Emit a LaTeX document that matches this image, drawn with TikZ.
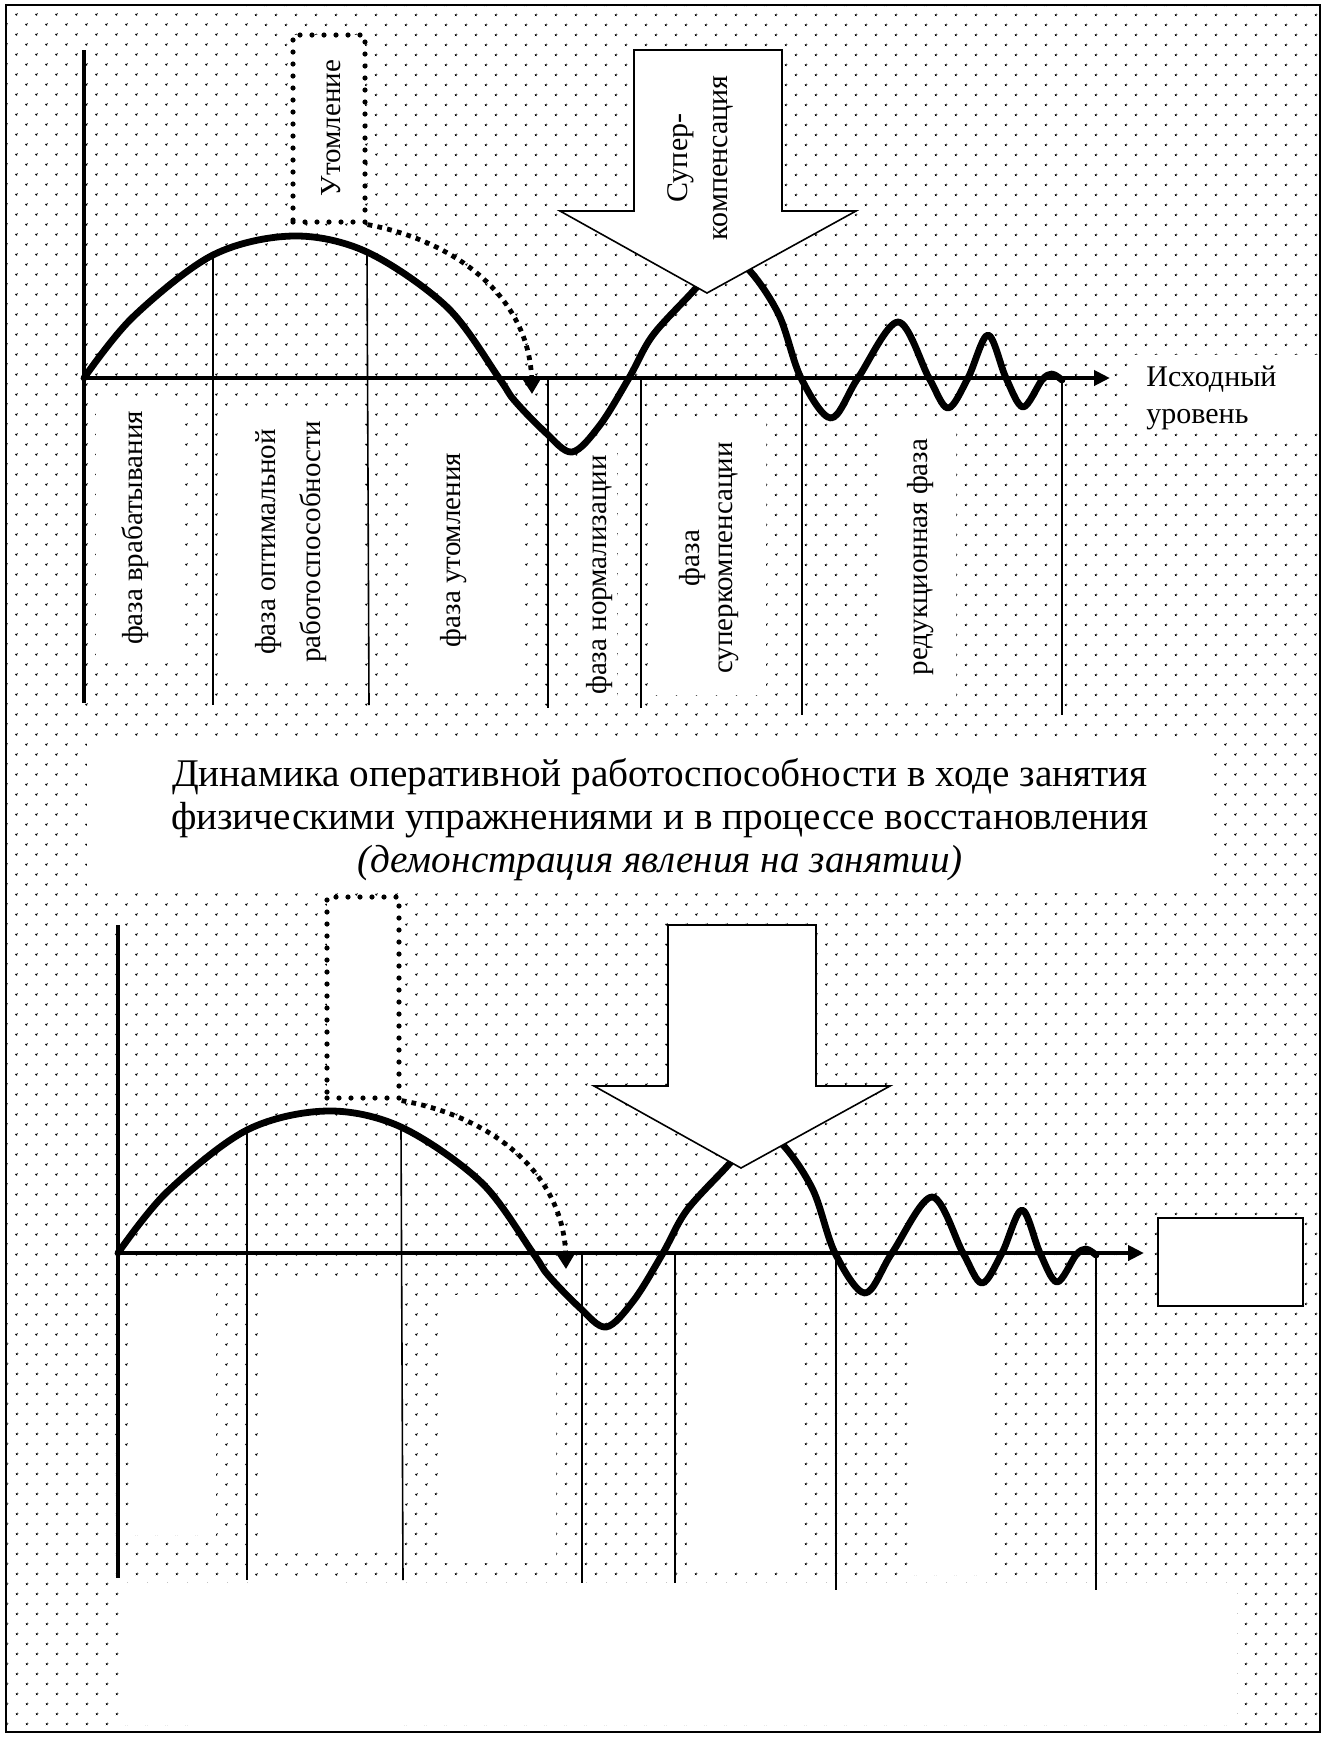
\documentclass[tikz,border=0pt]{standalone}
\usepackage{fontspec}
\setmainfont{Liberation Serif}
\usetikzlibrary{patterns.meta,arrows.meta}
\tikzset{
  axisline/.style={line width=2.3pt},
  curveline/.style={line width=3.4pt, line join=round, line cap=round},
  divider/.style={line width=0.8pt},
  utbox/.style={draw, fill=white, line width=2.6pt, dash pattern=on 0pt off 6pt, line cap=round, inner sep=0pt},
  dotarrow/.style={line width=2.4pt, dash pattern=on 2.4pt off 2.6pt, -{Triangle[length=7pt,width=8pt]}},
  bigarrow/.style={draw, fill=white, line width=0.8pt, line join=miter},
  lbl/.style={rotate=90, font=\fontsize{14.5}{17}\selectfont, align=center, inner sep=0pt},
  whitebox/.style={fill=white}
}
\newcommand\drawchart[4]{% #1 shift, #2 prefix, #3 box height (pt), #4 box center y
\begin{scope}[shift={#1}]
  % white label backgrounds
  \fill[whitebox] (96,403) rectangle (182,660);
  \fill[whitebox] (224,407) rectangle (364,677);
  \fill[whitebox] (410,420) rectangle (522,688);
  \fill[whitebox] (653,420) rectangle (766,695);
  \fill[whitebox] (879,420) rectangle (956,700);
  % coordinates
  \coordinate (#2o) at (84,378);
  \coordinate (#2ytop) at (84,50);
  \coordinate (#2ybot) at (84,703);
  \coordinate (#2xend) at (1110,378);
  % dividers
  \coordinate (#2d1t) at (213,255); \coordinate (#2d1b) at (213,705);
  \coordinate (#2d2t) at (367,254); \coordinate (#2d2b) at (369,705);
  \coordinate (#2d3t) at (548,378); \coordinate (#2d3b) at (548,708);
  \coordinate (#2d4t) at (641,378); \coordinate (#2d4b) at (641,708);
  \coordinate (#2d5t) at (802,378); \coordinate (#2d5b) at (802,715);
  \coordinate (#2d6t) at (1062,378); \coordinate (#2d6b) at (1062,715);
  \foreach \i in {1,...,6} {\draw[divider] (#2d\i t) -- (#2d\i b);}
  % axes
  \draw[axisline] (#2ytop) -- (#2ybot);
  \draw[axisline,-{Triangle[length=8pt,width=7.5pt]}] (#2o) -- (#2xend);
  % curve
  \draw[curveline] plot[smooth, tension=0.55] coordinates {
    (84,378) (133,317) (213,255) (293,236) (367,252) (447,307) (499,378) (514,400)
    (545,432) (572,452) (600,425) (629,378) (653,335) (696,288) (722,255)
    (749,270) (779,315) (801,378) (831,418) (858,378) (898,322) (929,378)
    (948,408) (968,378) (988,335) (1006,378) (1023,407) (1042,380) (1052,374) (1062,380)};
  % Utomlenie box and dotted arrow
  \node[utbox, minimum width=36pt, minimum height=#3] (#2ut) at (329,#4) {};
  \coordinate (#2c1) at (460,242);
  \coordinate (#2c2) at (530,300);
  \coordinate (#2dtip) at (532,394);
  \draw[dotarrow] (#2ut.south east) .. controls (#2c1) and (#2c2) .. (#2dtip);
  % big arrow
  \draw[bigarrow] (634,50) -- (782,50) -- (782,211) -- (856,211) -- (707,293)
     -- (560,211) -- (634,211) -- cycle;
\end{scope}
}
\begin{document}
\begin{tikzpicture}[x=0.5pt,y=-0.5pt]
\useasboundingbox (0,0) rectangle (1327,1737);
\fill[white] (0,0) rectangle (1327,1737);
\fill[pattern={Dots[distance=7.25pt, angle=45, radius=0.7pt]}] (6,5) rectangle (1320,1732);
% top-level white areas
\fill[whitebox] (1128,355) rectangle (1318,428);
\fill[whitebox] (87,743) rectangle (1207,893);
\fill[whitebox] (119,1583) rectangle (1237,1725);
\draw[line width=1pt] (6,5) rectangle (1320,1732);

\drawchart{(0,0)}{a}{93.5pt}{128.5}
\drawchart{(34,875)}{b}{100.5pt}{122.5}

% texts of the upper chart
\node[lbl] (ut) at (331,128) {Утомление};
\node[lbl, font=\fontsize{15}{20}\selectfont] (sk) at (700,158) {Супер-\\компенсация};
\node[lbl] (l1) at (135,528) {фаза врабатывания};
\node[lbl, font=\fontsize{14.5}{22.5}\selectfont] (l2) at (291,542) {фаза оптимальной\\работоспособности};
\node[lbl] (l3) at (454,550) {фаза утомления};
\node[lbl, fill=white, inner sep=2pt] (l4) at (600,575) {фаза нормализации};
\node[lbl, font=\fontsize{14.5}{16.5}\selectfont] (l5) at (709,558) {фаза\\суперкомпенсации};
\node[lbl] (l6) at (921,557) {редукционная фаза};
\node[font=\fontsize{15}{18.5}\selectfont, align=left, anchor=west, inner sep=0pt] (ish) at (1146,398) {Исходный\\уровень};
\node[font=\fontsize{19.6}{21.5}\selectfont, align=center, inner sep=0pt] (title) at (660,820)
  {Динамика оперативной работоспособности в ходе занятия\\
   физическими упражнениями и в процессе восстановления\\
   \textit{(демонстрация явления на занятии)}};
% empty box of the lower chart
\node[draw, line width=1pt, fill=white, minimum width=72.5pt, minimum height=44pt, inner sep=0pt] (bbox) at (1230.5,1262) {};
\end{tikzpicture}
\end{document}
